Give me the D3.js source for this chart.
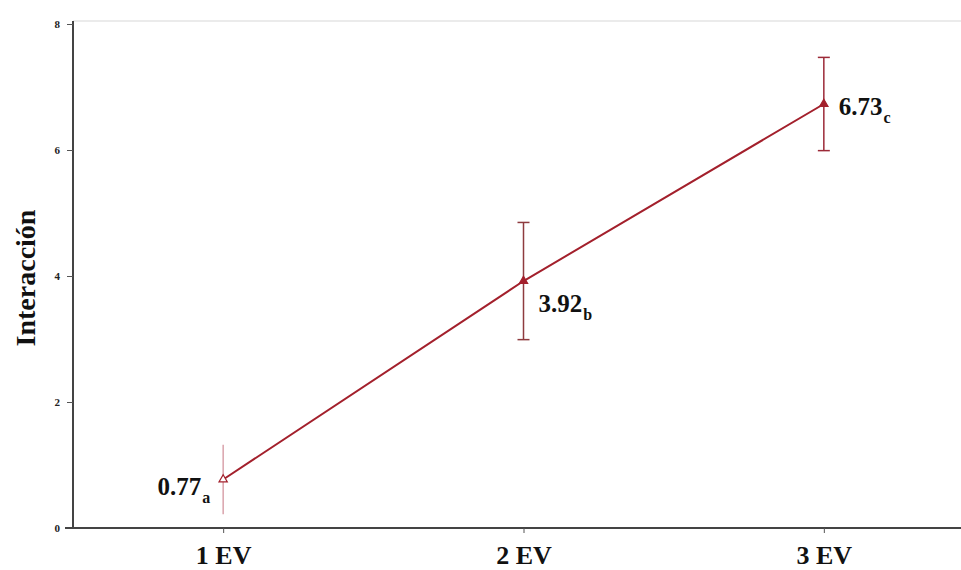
<!DOCTYPE html>
<html>
<head>
<meta charset="utf-8">
<script src="https://cdn.jsdelivr.net/npm/d3@7"></script>
<style>
  html, body { margin: 0; padding: 0; background: #fff; }
  svg { display: block; }
  svg text { font-family: "Liberation Serif", "Times New Roman", "DejaVu Serif", serif; }
</style>
</head>
<body>
<svg id="chart" width="961" height="570"></svg>
<script>
// Data: mean interaction per group, with error half-widths and group letters
const categories = ["1 EV", "2 EV", "3 EV"];
const means = [0.77, 3.92, 6.73];
const errors = [0.55, 0.93, 0.74];
const letters = ["a", "b", "c"];
const yTicks = [0, 2, 4, 6, 8];

const svg = d3.select("#chart");
const W = 961;
const plotLeft = 73, plotTop = 24, plotBottom = 528;

const x = d3.scalePoint().domain(categories).range([plotLeft, 974]).padding(0.5);
const y = d3.scaleLinear().domain([0, 8]).range([plotBottom, plotTop]);

// light frame line at the top of the plot area
svg.append("line")
  .attr("x1", plotLeft).attr("x2", W)
  .attr("y1", y(8) - 3).attr("y2", y(8) - 3)
  .attr("stroke", "#e4e4e4").attr("stroke-width", 1.5);

// y axis
const yAxis = svg.append("g")
  .attr("transform", `translate(${plotLeft},0)`)
  .call(d3.axisLeft(y).tickValues(yTicks).tickSize(6).tickSizeOuter(0).tickFormat(d3.format("d")));
yAxis.attr("font-family", null);
yAxis.select(".domain").attr("stroke", "#444").attr("stroke-width", 2)
  .attr("d", `M0,${y(8) - 3}V${plotBottom}`);
yAxis.selectAll(".tick line").attr("stroke", "#555");
yAxis.selectAll(".tick text")
  .attr("font-size", 11).attr("font-weight", "bold")
  .attr("fill", "#222").attr("x", -13);

// x axis
const xAxis = svg.append("g")
  .attr("transform", `translate(0,${plotBottom})`)
  .call(d3.axisBottom(x).tickSize(5).tickSizeOuter(0));
xAxis.attr("font-family", null);
xAxis.select(".domain").attr("stroke", "#444").attr("stroke-width", 2)
  .attr("d", `M${plotLeft - 8},0H${W}`);
xAxis.selectAll(".tick line").attr("stroke", "#555");
xAxis.selectAll(".tick text")
  .attr("font-size", 26).attr("font-weight", "bold")
  .attr("fill", "#111").attr("dy", 0).attr("y", 36);

// y axis title
svg.append("text")
  .attr("transform", `translate(35,278) rotate(-90)`)
  .attr("text-anchor", "middle")
  .attr("font-size", 28).attr("font-weight", "bold")
  .attr("fill", "#111")
  .text("Interacción");

const pts = categories.map((c, i) => ({ c, m: means[i], e: errors[i], l: letters[i], i }));

// error bars
const barColors = ["#d9a3ab", "#8e3b3f", "#9c2a38"];
const eb = svg.append("g");
pts.forEach(p => {
  const col = barColors[p.i];
  eb.append("line")
    .attr("x1", x(p.c)).attr("x2", x(p.c))
    .attr("y1", y(p.m + p.e)).attr("y2", y(p.m - p.e))
    .attr("stroke", col).attr("stroke-width", 1.5);
  if (p.i > 0) {
    [p.m + p.e, p.m - p.e].forEach(v => {
      eb.append("line")
        .attr("x1", x(p.c) - 6).attr("x2", x(p.c) + 6)
        .attr("y1", y(v)).attr("y2", y(v))
        .attr("stroke", col).attr("stroke-width", 1.5);
    });
  }
});

// mean line
svg.append("path")
  .datum(pts)
  .attr("fill", "none")
  .attr("stroke", "#a3202c")
  .attr("stroke-width", 2)
  .attr("d", d3.line().x(d => x(d.c)).y(d => y(d.m)));

// point markers
svg.selectAll(".mk").data(pts).enter().append("path")
  .attr("class", "mk")
  .attr("transform", d => `translate(${x(d.c)},${y(d.m)})`)
  .attr("d", d3.symbol(d3.symbolTriangle, 30))
  .attr("fill", d => d.i === 0 ? "#fff" : "#a3202c")
  .attr("stroke", "#a3202c").attr("stroke-width", 1.2);

// value labels with group letters as subscripts
const lab = svg.append("g")
  .attr("font-weight", "bold").attr("fill", "#111");
const offsets = [
  { dx: -22, dy: 16, anchor: "end" },
  { dx: 15, dy: 31, anchor: "start" },
  { dx: 15, dy: 11, anchor: "start" }
];
pts.forEach((p, i) => {
  const o = offsets[i];
  const g = lab.append("g");
  g.append("text")
    .attr("x", x(p.c) + o.dx).attr("y", y(p.m) + o.dy)
    .attr("text-anchor", o.anchor)
    .attr("font-size", 25)
    .text(p.m.toFixed(2));
  // subscript letter sits right after the number
  const num = g.select("text").node().getBBox();
  g.append("text")
    .attr("x", num.x + num.width + 1).attr("y", y(p.m) + o.dy + 8)
    .attr("font-size", 16)
    .text(p.l);
});
</script>
</body>
</html>
